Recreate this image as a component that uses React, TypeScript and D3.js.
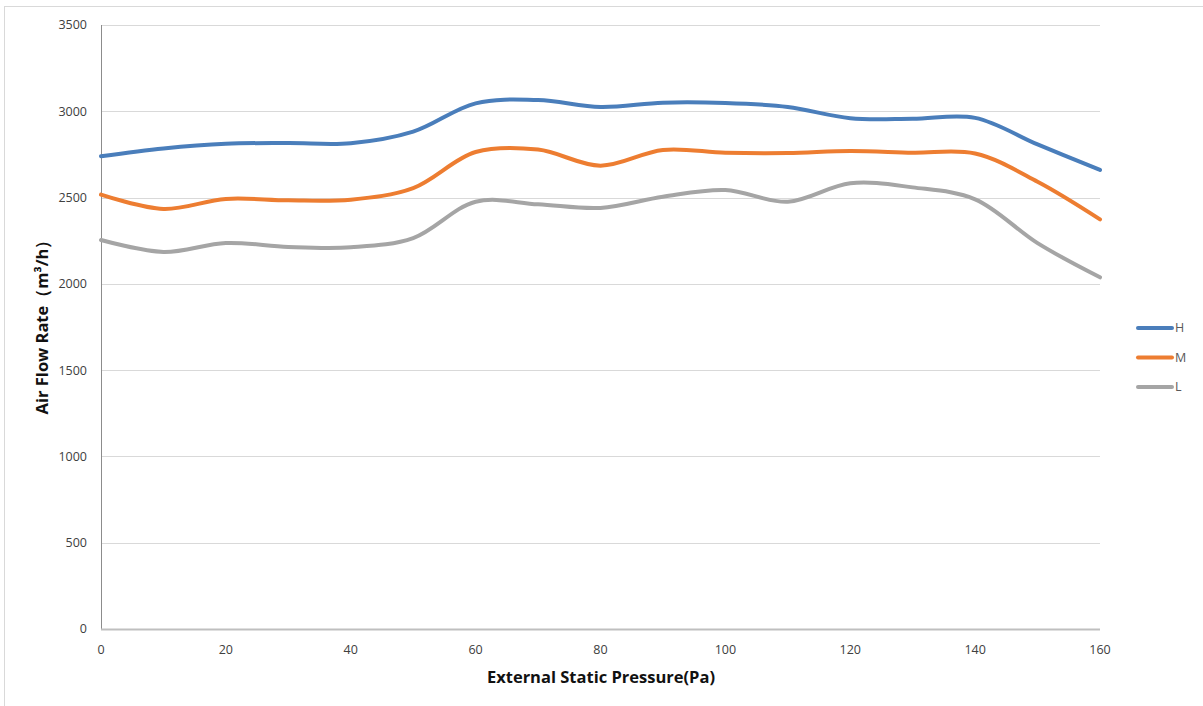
import React from "react";
import * as d3 from "d3";

const pressures = [0, 10, 20, 30, 40, 50, 60, 70, 80, 90, 100, 110, 120, 130, 140, 150, 160];
const seriesH = [2740, 2785, 2812, 2816, 2815, 2882, 3046, 3065, 3025, 3050, 3048, 3025, 2960, 2957, 2962, 2808, 2660];
const seriesM = [2517, 2434, 2492, 2484, 2488, 2555, 2764, 2778, 2685, 2776, 2760, 2758, 2770, 2760, 2755, 2592, 2374];
const seriesL = [2254, 2185, 2237, 2214, 2212, 2265, 2476, 2461, 2440, 2505, 2544, 2476, 2583, 2559, 2490, 2236, 2038];
const seriesNames = ["H", "M", "L"];
const seriesColors = ["#4a7ebb", "#ed7d31", "#a5a5a5"];
const yTicks = [0, 500, 1000, 1500, 2000, 2500, 3000, 3500];
const xTicks = [0, 20, 40, 60, 80, 100, 120, 140, 160];

export default function App() {
  const W = 1203, H = 706;
  const left = 101, right = 1100, top = 25, bottom = 629;
  const x = d3.scaleLinear().domain([0, 160]).range([left, right]);
  const y = d3.scaleLinear().domain([0, 3500]).range([bottom, top]);
  const allSeries = [seriesH, seriesM, seriesL];
  const line = d3
    .line<number>()
    .x((_, i) => x(pressures[i]))
    .y((d) => y(d))
    .curve(d3.curveCatmullRom.alpha(0.5));
  const font = "'Open Sans', 'DejaVu Sans', sans-serif";
  return (
    <svg
      width={W}
      height={H}
      style={{ position: "absolute", left: 0, top: 0, background: "#fff" }}
      fontFamily={font}
    >
      <rect x={0} y={0} width={W} height={H} fill="#fff" />
      <line x1={4.5} y1={6} x2={4.5} y2={H} stroke="#d9d9d9" />
      <line x1={4} y1={6.5} x2={W} y2={6.5} stroke="#d9d9d9" />
      {yTicks.map((t) => (
        <g key={t}>
          {t > 0 && (
            <line x1={left} x2={right} y1={Math.round(y(t)) + 0.5} y2={Math.round(y(t)) + 0.5} stroke="#d9d9d9" />
          )}
          <text x={87} y={y(t)} dy="0.35em" textAnchor="end" fontSize={12.5} fill="#404040">
            {t}
          </text>
        </g>
      ))}
      <line x1={left + 0.5} x2={left + 0.5} y1={top} y2={bottom} stroke="#8c8c8c" />
      <line x1={left} x2={right} y1={bottom + 0.5} y2={bottom + 0.5} stroke="#bfbfbf" strokeWidth={2} />
      {xTicks.map((t) => (
        <text key={t} x={x(t)} y={650} dy="0.35em" textAnchor="middle" fontSize={12.5} fill="#404040">
          {t}
        </text>
      ))}
      {allSeries.map((s, i) => (
        <path
          key={seriesNames[i]}
          d={line(s) || ""}
          fill="none"
          stroke={seriesColors[i]}
          strokeWidth={4}
          strokeLinecap="round"
        />
      ))}
      <text x={601} y={677} dy="0.35em" textAnchor="middle" fontSize={16.5} fontWeight="bold" fill="#111">
        External Static Pressure(Pa)
      </text>
      <text
        transform={`translate(42,323) rotate(-90)`}
        dy="0.35em"
        textAnchor="middle"
        fontSize={16.5}
        fontWeight="bold"
        fill="#111"
      >
        Air Flow Rate（m³/h）
      </text>
      {seriesNames.map((n, i) => (
        <g key={n} transform={`translate(0,${328 + i * 29.5})`}>
          <line x1={1138} x2={1172} y1={0} y2={0} stroke={seriesColors[i]} strokeWidth={4} strokeLinecap="round" />
          <text x={1175} y={0} dy="0.35em" fontSize={12.5} fill="#595959">
            {n}
          </text>
        </g>
      ))}
    </svg>
  );
}
